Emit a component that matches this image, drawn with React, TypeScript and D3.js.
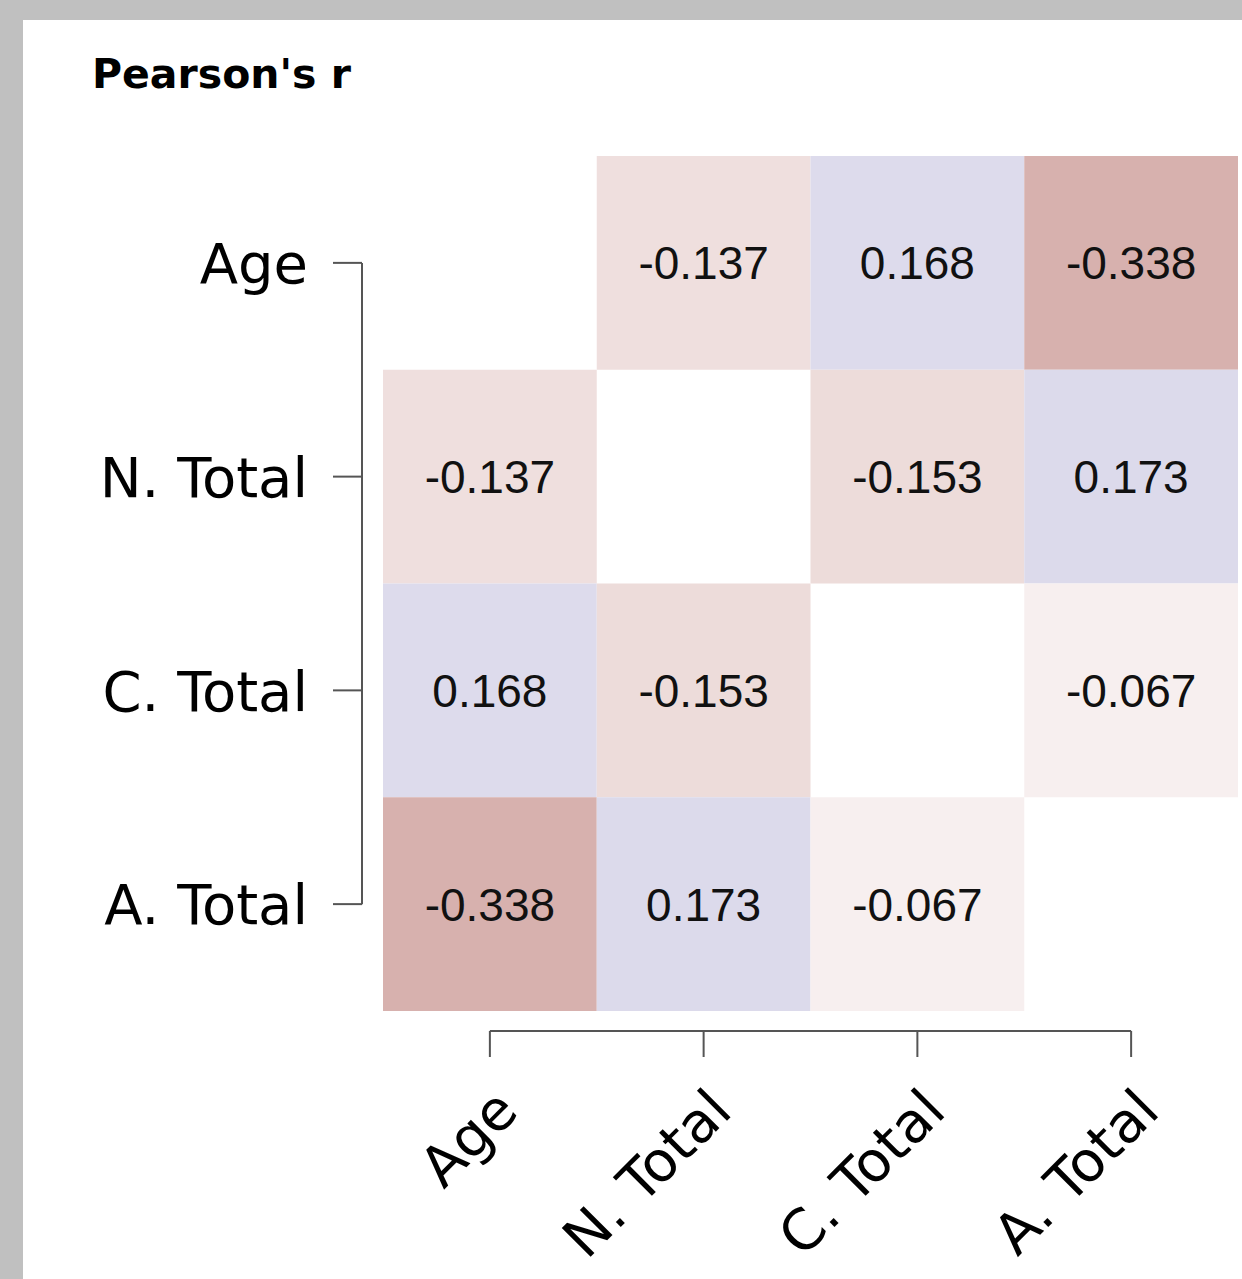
import * as d3 from 'd3';
import React, { useEffect, useRef } from 'react';

const variables = ['Age', 'N. Total', 'C. Total', 'A. Total'];
// lower triangle of Pearson's r (row, col) pairs, mirrored when drawn
const pairs = [
  ['N. Total', 'Age'],
  ['C. Total', 'Age'],
  ['C. Total', 'N. Total'],
  ['A. Total', 'Age'],
  ['A. Total', 'N. Total'],
  ['A. Total', 'C. Total'],
];
const rValues = [-0.137, 0.168, -0.153, -0.338, 0.173, -0.067];
const title = "Pearson's r";

const App = () => {
  const svgRef = useRef<SVGSVGElement>(null);

  useEffect(() => {
    const svg = d3.select(svgRef.current);
    svg.selectAll('*').remove();

    const width = 1242;
    const height = 1279;
    const labelFont = '"DejaVu Sans", Verdana, sans-serif';
    const cellFont = '"Liberation Sans", Arial, Helvetica, sans-serif';

    svg.attr('width', width).attr('height', height);

    // grey frame + white panel
    svg.append('rect').attr('width', width).attr('height', height).attr('fill', '#c0c0c0');
    svg.append('rect').attr('x', 23).attr('y', 20).attr('width', width).attr('height', height).attr('fill', '#ffffff');

    svg.append('text')
      .attr('x', 92)
      .attr('y', 88)
      .style('font-family', labelFont)
      .style('font-weight', 'bold')
      .style('font-size', '41px')
      .attr('fill', '#000')
      .text(title);

    const x = d3.scaleBand().domain(variables).range([383, 1238]).padding(0);
    const y = d3.scaleBand().domain(variables).range([156, 1011]).padding(0);

    const color = d3.scaleLinear<string>()
      .domain([-0.35, 0, 0.35])
      .range(['#d6aeab', '#ffffff', '#b8b4d7'])
      .clamp(true);

    const cells = pairs.flatMap((p, i) => [
      { row: p[0], col: p[1], r: rValues[i] },
      { row: p[1], col: p[0], r: rValues[i] },
    ]);

    const g = svg.append('g');
    g.selectAll('rect.cell')
      .data(cells)
      .join('rect')
      .attr('class', 'cell')
      .attr('x', d => x(d.col)!)
      .attr('y', d => y(d.row)!)
      .attr('width', x.bandwidth())
      .attr('height', y.bandwidth())
      .attr('fill', d => color(d.r));

    g.selectAll('text.val')
      .data(cells)
      .join('text')
      .attr('class', 'val')
      .attr('x', d => x(d.col)! + x.bandwidth() / 2)
      .attr('y', d => y(d.row)! + y.bandwidth() / 2)
      .attr('dy', '0.36em')
      .attr('text-anchor', 'middle')
      .style('font-family', cellFont)
      .style('font-size', '46px')
      .attr('fill', '#111')
      .text(d => d.r.toFixed(3));

    const axisColor = '#555';

    // y axis (left bracket)
    const yc = (v: string) => y(v)! + y.bandwidth() / 2;
    const axisX = 362;
    svg.append('line')
      .attr('x1', axisX).attr('x2', axisX)
      .attr('y1', yc(variables[0])).attr('y2', yc(variables[variables.length - 1]))
      .attr('stroke', axisColor).attr('stroke-width', 2);
    const yTicks = svg.append('g');
    yTicks.selectAll('line')
      .data(variables)
      .join('line')
      .attr('x1', axisX - 29).attr('x2', axisX)
      .attr('y1', d => yc(d)).attr('y2', d => yc(d))
      .attr('stroke', axisColor).attr('stroke-width', 2);
    yTicks.selectAll('text')
      .data(variables)
      .join('text')
      .attr('x', 308)
      .attr('y', d => yc(d))
      .attr('dy', '0.36em')
      .attr('text-anchor', 'end')
      .style('font-family', labelFont)
      .style('font-size', '56px')
      .attr('fill', '#000')
      .text(d => d);

    // x axis
    const xc = (v: string) => x(v)! + x.bandwidth() / 2;
    const axisY = 1031;
    svg.append('line')
      .attr('x1', xc(variables[0])).attr('x2', xc(variables[variables.length - 1]))
      .attr('y1', axisY).attr('y2', axisY)
      .attr('stroke', axisColor).attr('stroke-width', 2);
    const xTicks = svg.append('g');
    xTicks.selectAll('line')
      .data(variables)
      .join('line')
      .attr('x1', d => xc(d)).attr('x2', d => xc(d))
      .attr('y1', axisY).attr('y2', axisY + 26)
      .attr('stroke', axisColor).attr('stroke-width', 2);
    xTicks.selectAll('text')
      .data(variables)
      .join('text')
      .attr('transform', d => `translate(${xc(d) + 2},${axisY + 54}) rotate(-45)`)
      .attr('dy', '0.72em')
      .attr('text-anchor', 'end')
      .style('font-family', labelFont)
      .style('font-size', '56px')
      .attr('fill', '#000')
      .text(d => d);
  }, []);

  return (
    <svg ref={svgRef} style={{ position: 'absolute', left: 0, top: 0, display: 'block' }}></svg>
  );
};

export default App;
